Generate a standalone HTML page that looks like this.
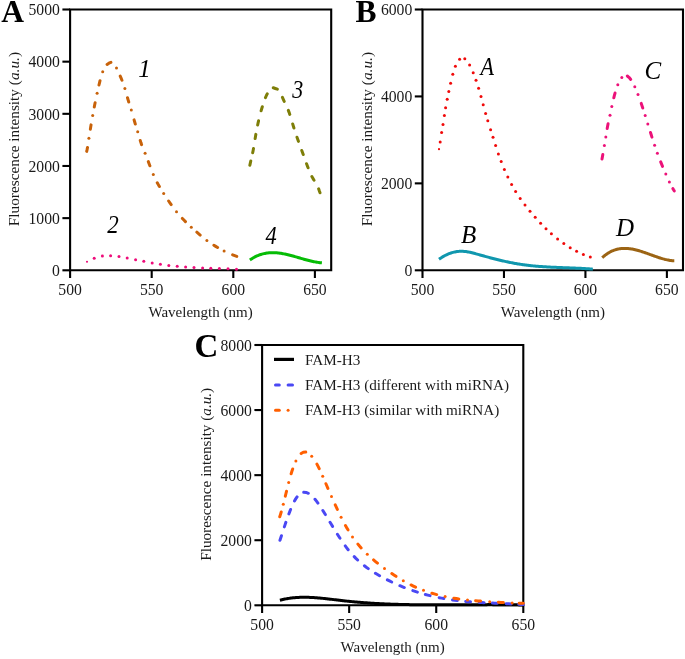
<!DOCTYPE html>
<html><head><meta charset="utf-8"><style>html,body{margin:0;padding:0;background:#fff;overflow:hidden;}svg{display:block;will-change:transform;}</style></head><body>
<svg width="685" height="659" viewBox="0 0 685 659" font-family='"Liberation Serif", serif' fill="#1a1a1a">
<rect width="685" height="659" fill="#fff"/>
<path d="M70.1,9.5 H331.2 V270.3 H70.1 Z" fill="none" stroke="#000" stroke-width="2.1"/>
<line x1="62.40" y1="270.30" x2="70.1" y2="270.30" stroke="#000" stroke-width="2.1"/>
<text x="59.90" y="276.00" text-anchor="end" font-size="15.7">0</text>
<line x1="62.40" y1="218.14" x2="70.1" y2="218.14" stroke="#000" stroke-width="2.1"/>
<text x="59.90" y="223.84" text-anchor="end" font-size="15.7">1000</text>
<line x1="62.40" y1="165.98" x2="70.1" y2="165.98" stroke="#000" stroke-width="2.1"/>
<text x="59.90" y="171.68" text-anchor="end" font-size="15.7">2000</text>
<line x1="62.40" y1="113.82" x2="70.1" y2="113.82" stroke="#000" stroke-width="2.1"/>
<text x="59.90" y="119.52" text-anchor="end" font-size="15.7">3000</text>
<line x1="62.40" y1="61.66" x2="70.1" y2="61.66" stroke="#000" stroke-width="2.1"/>
<text x="59.90" y="67.36" text-anchor="end" font-size="15.7">4000</text>
<line x1="62.40" y1="9.50" x2="70.1" y2="9.50" stroke="#000" stroke-width="2.1"/>
<text x="59.90" y="15.20" text-anchor="end" font-size="15.7">5000</text>
<line x1="70.10" y1="270.3" x2="70.10" y2="278.00" stroke="#000" stroke-width="2.1"/>
<text x="70.10" y="294.80" text-anchor="middle" font-size="15.7">500</text>
<line x1="151.70" y1="270.3" x2="151.70" y2="278.00" stroke="#000" stroke-width="2.1"/>
<text x="151.70" y="294.80" text-anchor="middle" font-size="15.7">550</text>
<line x1="233.30" y1="270.3" x2="233.30" y2="278.00" stroke="#000" stroke-width="2.1"/>
<text x="233.30" y="294.80" text-anchor="middle" font-size="15.7">600</text>
<line x1="314.90" y1="270.3" x2="314.90" y2="278.00" stroke="#000" stroke-width="2.1"/>
<text x="314.90" y="294.80" text-anchor="middle" font-size="15.7">650</text>
<text x="1.2" y="22" font-size="31.5" font-weight="bold" fill="#000">A</text>
<text transform="translate(19,139.1) rotate(-90)" text-anchor="middle" font-size="15.3">Fluorescence intensity (<tspan font-style="italic">a.u.</tspan>)</text>
<text x="200.6" y="317.3" text-anchor="middle" font-size="15">Wavelength (nm)</text>
<path d="M86.70,151.37 87.13,149.39 87.49,147.40 M90.34,129.21 90.70,127.04 91.07,124.87 M94.28,106.99 94.70,104.83 95.12,102.67 M98.98,84.98 99.50,82.84 100.03,80.71 M107.09,64.43 108.90,63.18 110.92,62.31 M120.22,76.18 121.10,78.20 121.96,80.22 M127.50,97.78 128.10,99.90 128.74,102.01 M134.09,119.85 134.70,121.96 135.33,124.07 M140.25,140.50 140.90,142.60 141.60,144.68 M148.32,161.62 149.10,163.67 149.88,165.73 M157.25,182.71 158.30,184.64 159.39,186.55 M168.65,201.01 169.90,202.82 171.17,204.62 M182.38,218.43 183.90,220.03 185.44,221.59 M196.84,232.19 198.50,233.63 200.18,235.05 M213.84,245.21 215.70,246.39 217.58,247.53 M232.64,254.90 234.70,255.68 236.77,256.42" fill="none" stroke="#c8620a" stroke-width="3.0" stroke-linecap="round" stroke-linejoin="round"/>
<circle cx="88.90" cy="138.17" r="1.50" fill="#c8620a"/>
<circle cx="92.70" cy="115.54" r="1.50" fill="#c8620a"/>
<circle cx="97.10" cy="93.19" r="1.50" fill="#c8620a"/>
<circle cx="102.70" cy="71.63" r="1.50" fill="#c8620a"/>
<circle cx="116.50" cy="67.90" r="1.50" fill="#c8620a"/>
<circle cx="124.90" cy="88.40" r="1.50" fill="#c8620a"/>
<circle cx="131.30" cy="110.01" r="1.50" fill="#c8620a"/>
<circle cx="137.70" cy="131.69" r="1.50" fill="#c8620a"/>
<circle cx="145.10" cy="153.36" r="1.50" fill="#c8620a"/>
<circle cx="153.30" cy="174.39" r="1.50" fill="#c8620a"/>
<circle cx="163.70" cy="193.53" r="1.50" fill="#c8620a"/>
<circle cx="176.50" cy="211.68" r="1.50" fill="#c8620a"/>
<circle cx="191.30" cy="227.20" r="1.50" fill="#c8620a"/>
<circle cx="206.90" cy="240.39" r="1.50" fill="#c8620a"/>
<circle cx="224.10" cy="251.09" r="1.50" fill="#c8620a"/>
<circle cx="87.00" cy="261.77" r="1.08" fill="#ee0c7a"/>
<circle cx="94.20" cy="258.19" r="1.50" fill="#ee0c7a"/>
<circle cx="102.40" cy="256.07" r="1.50" fill="#ee0c7a"/>
<circle cx="110.60" cy="255.63" r="1.50" fill="#ee0c7a"/>
<circle cx="119.00" cy="256.47" r="1.50" fill="#ee0c7a"/>
<circle cx="127.20" cy="257.97" r="1.50" fill="#ee0c7a"/>
<circle cx="135.60" cy="259.67" r="1.50" fill="#ee0c7a"/>
<circle cx="143.80" cy="261.33" r="1.50" fill="#ee0c7a"/>
<circle cx="152.20" cy="262.93" r="1.50" fill="#ee0c7a"/>
<circle cx="160.40" cy="264.30" r="1.50" fill="#ee0c7a"/>
<circle cx="168.80" cy="265.44" r="1.50" fill="#ee0c7a"/>
<circle cx="177.20" cy="266.34" r="1.50" fill="#ee0c7a"/>
<circle cx="185.60" cy="267.02" r="1.50" fill="#ee0c7a"/>
<circle cx="194.00" cy="267.55" r="1.50" fill="#ee0c7a"/>
<circle cx="202.60" cy="267.96" r="1.50" fill="#ee0c7a"/>
<circle cx="210.80" cy="268.27" r="1.50" fill="#ee0c7a"/>
<circle cx="219.40" cy="268.55" r="1.50" fill="#ee0c7a"/>
<circle cx="228.00" cy="268.83" r="1.50" fill="#ee0c7a"/>
<circle cx="236.50" cy="269.16" r="1.50" fill="#ee0c7a"/>
<path d="M249.85,165.22 250.30,163.12 250.78,161.02 M252.68,152.78 253.10,150.68 253.49,148.56 M255.15,138.60 255.50,136.48 255.86,134.36 M257.65,125.00 258.10,122.90 258.57,120.80 M261.10,110.83 261.70,108.77 262.32,106.71 M265.46,97.70 266.30,95.72 267.23,93.78 M273.29,87.77 275.30,88.47 277.33,89.18 M282.43,97.41 283.30,99.37 284.21,101.32 M288.34,110.35 289.10,112.36 289.80,114.39 M292.68,123.92 293.30,125.98 293.93,128.03 M296.99,137.29 297.70,139.31 298.42,141.34 M301.77,150.53 302.50,152.55 303.23,154.57 M306.55,163.75 307.30,165.76 308.07,167.77 M311.87,176.48 312.90,178.37 314.03,180.20 M318.62,188.81 319.29,190.81 320.00,192.78" fill="none" stroke="#7e7e08" stroke-width="3.0" stroke-linecap="round" stroke-linejoin="round"/>
<path d="M249.90,260.03 250.90,259.33 251.90,258.68 252.90,258.06 253.90,257.48 254.90,256.94 255.90,256.44 256.90,255.97 257.90,255.54 258.90,255.14 259.90,254.77 260.90,254.44 261.90,254.14 262.90,253.87 263.90,253.63 264.90,253.42 265.90,253.23 266.90,253.08 267.90,252.95 268.90,252.85 269.90,252.77 270.90,252.72 271.90,252.69 272.90,252.69 273.90,252.70 274.90,252.74 275.90,252.79 276.90,252.87 277.90,252.96 278.90,253.08 279.90,253.20 280.90,253.35 281.90,253.51 282.90,253.68 283.90,253.87 284.90,254.07 285.90,254.28 286.90,254.51 287.90,254.74 288.90,254.98 289.90,255.24 290.90,255.49 291.90,255.76 292.90,256.03 293.90,256.31 294.90,256.59 295.90,256.88 296.90,257.17 297.90,257.46 298.90,257.75 299.90,258.04 300.90,258.33 301.90,258.62 302.90,258.91 303.90,259.19 304.90,259.47 305.90,259.75 306.90,260.02 307.90,260.28 308.90,260.54 309.90,260.78 310.90,261.02 311.90,261.25 312.90,261.47 313.90,261.68 314.90,261.88 315.90,262.06 316.90,262.23 317.90,262.38 318.90,262.52 319.90,262.65 320.90,262.75 321.90,262.84" fill="none" stroke="#06bc06" stroke-width="3.0" stroke-linecap="butt" stroke-linejoin="round"/>
<text transform="translate(138.2,77.3) scale(1.0,1)" font-size="25" font-style="italic" fill="#000">1</text>
<text transform="translate(107.3,232.6) scale(0.92,1)" font-size="25" font-style="italic" fill="#000">2</text>
<text transform="translate(292.3,97.6) scale(0.88,1)" font-size="25" font-style="italic" fill="#000">3</text>
<text transform="translate(265.6,243.6) scale(0.9,1)" font-size="25" font-style="italic" fill="#000">4</text>
<path d="M422.5,9.5 H683.0 V270.3 H422.5 Z" fill="none" stroke="#000" stroke-width="2.1"/>
<line x1="414.80" y1="270.30" x2="422.5" y2="270.30" stroke="#000" stroke-width="2.1"/>
<text x="412.30" y="276.00" text-anchor="end" font-size="15.7">0</text>
<line x1="414.80" y1="183.37" x2="422.5" y2="183.37" stroke="#000" stroke-width="2.1"/>
<text x="412.30" y="189.07" text-anchor="end" font-size="15.7">2000</text>
<line x1="414.80" y1="96.43" x2="422.5" y2="96.43" stroke="#000" stroke-width="2.1"/>
<text x="412.30" y="102.13" text-anchor="end" font-size="15.7">4000</text>
<line x1="414.80" y1="9.50" x2="422.5" y2="9.50" stroke="#000" stroke-width="2.1"/>
<text x="412.30" y="15.20" text-anchor="end" font-size="15.7">6000</text>
<line x1="422.50" y1="270.3" x2="422.50" y2="278.00" stroke="#000" stroke-width="2.1"/>
<text x="422.50" y="294.80" text-anchor="middle" font-size="15.7">500</text>
<line x1="503.97" y1="270.3" x2="503.97" y2="278.00" stroke="#000" stroke-width="2.1"/>
<text x="503.97" y="294.80" text-anchor="middle" font-size="15.7">550</text>
<line x1="585.43" y1="270.3" x2="585.43" y2="278.00" stroke="#000" stroke-width="2.1"/>
<text x="585.43" y="294.80" text-anchor="middle" font-size="15.7">600</text>
<line x1="666.89" y1="270.3" x2="666.89" y2="278.00" stroke="#000" stroke-width="2.1"/>
<text x="666.89" y="294.80" text-anchor="middle" font-size="15.7">650</text>
<text x="355.5" y="22.3" font-size="31.5" font-weight="bold" fill="#000">B</text>
<text transform="translate(372,139.1) rotate(-90)" text-anchor="middle" font-size="15.3">Fluorescence intensity (<tspan font-style="italic">a.u.</tspan>)</text>
<text x="552.8" y="317" text-anchor="middle" font-size="15">Wavelength (nm)</text>
<circle cx="439.00" cy="149.13" r="1.08" fill="#f00a0a"/>
<circle cx="440.20" cy="141.91" r="1.50" fill="#f00a0a"/>
<circle cx="441.60" cy="132.58" r="1.50" fill="#f00a0a"/>
<circle cx="443.00" cy="124.53" r="1.50" fill="#f00a0a"/>
<circle cx="444.40" cy="115.41" r="1.50" fill="#f00a0a"/>
<circle cx="445.60" cy="107.67" r="1.50" fill="#f00a0a"/>
<circle cx="447.20" cy="99.25" r="1.50" fill="#f00a0a"/>
<circle cx="448.80" cy="91.46" r="1.50" fill="#f00a0a"/>
<circle cx="450.60" cy="83.13" r="1.50" fill="#f00a0a"/>
<circle cx="452.80" cy="74.23" r="1.50" fill="#f00a0a"/>
<circle cx="455.40" cy="66.31" r="1.50" fill="#f00a0a"/>
<circle cx="459.60" cy="59.22" r="1.50" fill="#f00a0a"/>
<circle cx="464.80" cy="58.73" r="1.50" fill="#f00a0a"/>
<circle cx="469.60" cy="64.91" r="1.50" fill="#f00a0a"/>
<circle cx="473.20" cy="72.80" r="1.50" fill="#f00a0a"/>
<circle cx="476.00" cy="80.30" r="1.50" fill="#f00a0a"/>
<circle cx="478.60" cy="88.14" r="1.50" fill="#f00a0a"/>
<circle cx="481.00" cy="96.53" r="1.50" fill="#f00a0a"/>
<circle cx="483.20" cy="104.76" r="1.50" fill="#f00a0a"/>
<circle cx="485.60" cy="113.52" r="1.50" fill="#f00a0a"/>
<circle cx="487.80" cy="120.87" r="1.50" fill="#f00a0a"/>
<circle cx="490.60" cy="129.72" r="1.50" fill="#f00a0a"/>
<circle cx="493.00" cy="137.35" r="1.50" fill="#f00a0a"/>
<circle cx="495.60" cy="145.53" r="1.50" fill="#f00a0a"/>
<circle cx="498.40" cy="153.93" r="1.50" fill="#f00a0a"/>
<circle cx="501.20" cy="161.61" r="1.50" fill="#f00a0a"/>
<circle cx="504.40" cy="169.53" r="1.50" fill="#f00a0a"/>
<circle cx="507.80" cy="177.06" r="1.50" fill="#f00a0a"/>
<circle cx="511.60" cy="184.54" r="1.50" fill="#f00a0a"/>
<circle cx="515.60" cy="191.50" r="1.50" fill="#f00a0a"/>
<circle cx="520.20" cy="198.56" r="1.50" fill="#f00a0a"/>
<circle cx="525.00" cy="205.09" r="1.50" fill="#f00a0a"/>
<circle cx="530.00" cy="211.29" r="1.50" fill="#f00a0a"/>
<circle cx="535.20" cy="217.36" r="1.50" fill="#f00a0a"/>
<circle cx="540.60" cy="223.27" r="1.50" fill="#f00a0a"/>
<circle cx="546.00" cy="228.76" r="1.50" fill="#f00a0a"/>
<circle cx="551.40" cy="233.81" r="1.50" fill="#f00a0a"/>
<circle cx="557.60" cy="239.03" r="1.50" fill="#f00a0a"/>
<circle cx="563.80" cy="243.61" r="1.50" fill="#f00a0a"/>
<circle cx="570.20" cy="247.70" r="1.50" fill="#f00a0a"/>
<circle cx="576.60" cy="251.22" r="1.50" fill="#f00a0a"/>
<circle cx="583.40" cy="254.38" r="1.50" fill="#f00a0a"/>
<circle cx="590.30" cy="257.08" r="1.50" fill="#f00a0a"/>
<path d="M439.00,259.28 440.00,258.57 441.00,257.90 442.00,257.26 443.00,256.65 444.00,256.07 445.00,255.53 446.00,255.02 447.00,254.55 448.00,254.11 449.00,253.70 450.00,253.32 451.00,252.98 452.00,252.66 453.00,252.38 454.00,252.14 455.00,251.92 456.00,251.74 457.00,251.58 458.00,251.46 459.00,251.37 460.00,251.31 461.00,251.29 462.00,251.29 463.00,251.33 464.00,251.39 465.00,251.49 466.00,251.61 467.00,251.75 468.00,251.92 469.00,252.10 470.00,252.31 471.00,252.53 472.00,252.77 473.00,253.02 474.00,253.28 475.00,253.54 476.00,253.82 477.00,254.10 478.00,254.38 479.00,254.66 480.00,254.94 481.00,255.22 482.00,255.50 483.00,255.78 484.00,256.06 485.00,256.33 486.00,256.61 487.00,256.88 488.00,257.15 489.00,257.42 490.00,257.69 491.00,257.95 492.00,258.21 493.00,258.47 494.00,258.73 495.00,258.99 496.00,259.24 497.00,259.49 498.00,259.73 499.00,259.98 500.00,260.22 501.00,260.46 502.00,260.69 503.00,260.92 504.00,261.15 505.00,261.38 506.00,261.60 507.00,261.81 508.00,262.03 509.00,262.23 510.00,262.44 511.00,262.64 512.00,262.84 513.00,263.03 514.00,263.22 515.00,263.40 516.00,263.58 517.00,263.75 518.00,263.92 519.00,264.08 520.00,264.24 521.00,264.39 522.00,264.54 523.00,264.69 524.00,264.82 525.00,264.96 526.00,265.09 527.00,265.21 528.00,265.33 529.00,265.45 530.00,265.56 531.00,265.66 532.00,265.77 533.00,265.87 534.00,265.96 535.00,266.05 536.00,266.14 537.00,266.23 538.00,266.31 539.00,266.39 540.00,266.46 541.00,266.54 542.00,266.61 543.00,266.67 544.00,266.74 545.00,266.80 546.00,266.86 547.00,266.92 548.00,266.97 549.00,267.03 550.00,267.08 551.00,267.13 552.00,267.18 553.00,267.22 554.00,267.27 555.00,267.31 556.00,267.36 557.00,267.40 558.00,267.44 559.00,267.48 560.00,267.52 561.00,267.56 562.00,267.59 563.00,267.63 564.00,267.67 565.00,267.71 566.00,267.74 567.00,267.78 568.00,267.82 569.00,267.86 570.00,267.89 571.00,267.93 572.00,267.97 573.00,268.01 574.00,268.05 575.00,268.09 576.00,268.14 577.00,268.18 578.00,268.23 579.00,268.27 580.00,268.32 581.00,268.37 582.00,268.42 583.00,268.48 584.00,268.53 585.00,268.59 586.00,268.65 587.00,268.71 588.00,268.78 589.00,268.85 590.00,268.92 591.00,268.99 592.00,269.07 592.80,269.13" fill="none" stroke="#1097ae" stroke-width="3.0" stroke-linecap="butt" stroke-linejoin="round"/>
<path d="M602.00,159.09 602.42,156.78 602.83,154.47 M607.17,128.55 607.60,126.14 608.08,123.73 M613.79,97.80 614.40,95.43 615.05,93.07 M627.30,76.04 629.20,77.57 630.75,79.46 M641.22,103.36 642.00,105.68 642.77,108.01 M650.46,132.42 651.20,134.76 651.94,137.09 M660.69,161.82 661.60,164.09 662.52,166.36 M672.86,188.64 673.56,189.79 674.30,190.91" fill="none" stroke="#ec1279" stroke-width="3.0" stroke-linecap="round" stroke-linejoin="round"/>
<circle cx="604.40" cy="145.48" r="1.50" fill="#ec1279"/>
<circle cx="605.80" cy="136.98" r="1.50" fill="#ec1279"/>
<circle cx="610.00" cy="115.14" r="1.50" fill="#ec1279"/>
<circle cx="611.80" cy="106.50" r="1.50" fill="#ec1279"/>
<circle cx="617.80" cy="84.71" r="1.50" fill="#ec1279"/>
<circle cx="621.80" cy="77.39" r="1.50" fill="#ec1279"/>
<circle cx="634.80" cy="86.74" r="1.50" fill="#ec1279"/>
<circle cx="638.00" cy="94.41" r="1.50" fill="#ec1279"/>
<circle cx="645.20" cy="115.58" r="1.50" fill="#ec1279"/>
<circle cx="647.80" cy="123.89" r="1.50" fill="#ec1279"/>
<circle cx="654.60" cy="145.18" r="1.50" fill="#ec1279"/>
<circle cx="657.40" cy="153.15" r="1.50" fill="#ec1279"/>
<circle cx="665.80" cy="174.11" r="1.50" fill="#ec1279"/>
<circle cx="669.40" cy="182.07" r="1.50" fill="#ec1279"/>
<path d="M602.20,257.68 603.20,256.79 604.20,255.95 605.20,255.16 606.20,254.42 607.20,253.73 608.20,253.09 609.20,252.49 610.20,251.94 611.20,251.44 612.20,250.97 613.20,250.55 614.20,250.17 615.20,249.83 616.20,249.53 617.20,249.27 618.20,249.04 619.20,248.85 620.20,248.70 621.20,248.57 622.20,248.48 623.20,248.42 624.20,248.39 625.20,248.39 626.20,248.42 627.20,248.47 628.20,248.55 629.20,248.66 630.20,248.78 631.20,248.93 632.20,249.10 633.20,249.29 634.20,249.50 635.20,249.73 636.20,249.98 637.20,250.24 638.20,250.51 639.20,250.80 640.20,251.10 641.20,251.41 642.20,251.74 643.20,252.07 644.20,252.41 645.20,252.75 646.20,253.10 647.20,253.46 648.20,253.82 649.20,254.18 650.20,254.55 651.20,254.91 652.20,255.28 653.20,255.64 654.20,256.00 655.20,256.35 656.20,256.70 657.20,257.04 658.20,257.38 659.20,257.71 660.20,258.02 661.20,258.33 662.20,258.62 663.20,258.91 664.20,259.17 665.20,259.43 666.20,259.66 667.20,259.88 668.20,260.08 669.20,260.26 670.20,260.42 671.20,260.56 672.20,260.68 673.20,260.77 674.20,260.84 674.30,260.84" fill="none" stroke="#9c6414" stroke-width="3.0" stroke-linecap="butt" stroke-linejoin="round"/>
<text transform="translate(480.6,74.6) scale(0.88,1)" font-size="25" font-style="italic" fill="#000">A</text>
<text transform="translate(461,242.6) scale(1.0,1)" font-size="25" font-style="italic" fill="#000">B</text>
<text transform="translate(644.4,78.6) scale(1.0,1)" font-size="25" font-style="italic" fill="#000">C</text>
<text transform="translate(616,235.5) scale(1.0,1)" font-size="25" font-style="italic" fill="#000">D</text>
<path d="M262.1,345.0 H523.3 V605.3 H262.1 Z" fill="none" stroke="#000" stroke-width="2.1"/>
<line x1="254.40" y1="605.30" x2="262.1" y2="605.30" stroke="#000" stroke-width="2.1"/>
<text x="251.90" y="611.00" text-anchor="end" font-size="15.7">0</text>
<line x1="254.40" y1="540.22" x2="262.1" y2="540.22" stroke="#000" stroke-width="2.1"/>
<text x="251.90" y="545.92" text-anchor="end" font-size="15.7">2000</text>
<line x1="254.40" y1="475.15" x2="262.1" y2="475.15" stroke="#000" stroke-width="2.1"/>
<text x="251.90" y="480.85" text-anchor="end" font-size="15.7">4000</text>
<line x1="254.40" y1="410.07" x2="262.1" y2="410.07" stroke="#000" stroke-width="2.1"/>
<text x="251.90" y="415.77" text-anchor="end" font-size="15.7">6000</text>
<line x1="254.40" y1="345.00" x2="262.1" y2="345.00" stroke="#000" stroke-width="2.1"/>
<text x="251.90" y="350.70" text-anchor="end" font-size="15.7">8000</text>
<line x1="262.10" y1="605.3" x2="262.10" y2="613.00" stroke="#000" stroke-width="2.1"/>
<text x="262.10" y="629.80" text-anchor="middle" font-size="15.7">500</text>
<line x1="349.17" y1="605.3" x2="349.17" y2="613.00" stroke="#000" stroke-width="2.1"/>
<text x="349.17" y="629.80" text-anchor="middle" font-size="15.7">550</text>
<line x1="436.23" y1="605.3" x2="436.23" y2="613.00" stroke="#000" stroke-width="2.1"/>
<text x="436.23" y="629.80" text-anchor="middle" font-size="15.7">600</text>
<line x1="523.30" y1="605.3" x2="523.30" y2="613.00" stroke="#000" stroke-width="2.1"/>
<text x="523.30" y="629.80" text-anchor="middle" font-size="15.7">650</text>
<text x="194.5" y="357.3" font-size="33" font-weight="bold" fill="#000">C</text>
<text transform="translate(211,474.3) rotate(-90)" text-anchor="middle" font-size="15.2">Fluorescence intensity (<tspan font-style="italic">a.u.</tspan>)</text>
<text x="392.7" y="652.3" text-anchor="middle" font-size="15">Wavelength (nm)</text>
<path d="M279.90,600.21 280.90,599.96 281.90,599.71 282.90,599.48 283.90,599.26 284.90,599.06 285.90,598.87 286.90,598.69 287.90,598.52 288.90,598.37 289.90,598.22 290.90,598.09 291.90,597.97 292.90,597.86 293.90,597.76 294.90,597.67 295.90,597.59 296.90,597.52 297.90,597.46 298.90,597.41 299.90,597.37 300.90,597.34 301.90,597.32 302.90,597.30 303.90,597.30 304.90,597.30 305.90,597.31 306.90,597.32 307.90,597.34 308.90,597.37 309.90,597.41 310.90,597.45 311.90,597.50 312.90,597.56 313.90,597.62 314.90,597.69 315.90,597.76 316.90,597.83 317.90,597.91 318.90,598.00 319.90,598.09 320.90,598.18 321.90,598.28 322.90,598.38 323.90,598.48 324.90,598.58 325.90,598.69 326.90,598.80 327.90,598.92 328.90,599.03 329.90,599.15 330.90,599.27 331.90,599.38 332.90,599.50 333.90,599.62 334.90,599.74 335.90,599.86 336.90,599.99 337.90,600.10 338.90,600.22 339.90,600.34 340.90,600.46 341.90,600.58 342.90,600.69 343.90,600.80 344.90,600.91 345.90,601.02 346.90,601.13 347.90,601.23 348.90,601.33 349.90,601.43 350.90,601.53 351.90,601.63 352.90,601.72 353.90,601.82 354.90,601.91 355.90,602.00 356.90,602.09 357.90,602.17 358.90,602.26 359.90,602.34 360.90,602.42 361.90,602.50 362.90,602.58 363.90,602.65 364.90,602.73 365.90,602.80 366.90,602.87 367.90,602.94 368.90,603.01 369.90,603.07 370.90,603.14 371.90,603.20 372.90,603.26 373.90,603.32 374.90,603.38 375.90,603.44 376.90,603.50 377.90,603.55 378.90,603.60 379.90,603.65 380.90,603.70 381.90,603.75 382.90,603.80 383.90,603.85 384.90,603.89 385.90,603.94 386.90,603.98 387.90,604.02 388.90,604.06 389.90,604.10 390.90,604.14 391.90,604.17 392.90,604.21 393.90,604.24 394.90,604.27 395.90,604.30 396.90,604.34 397.90,604.36 398.90,604.39 399.90,604.42 400.90,604.45 401.90,604.47 402.90,604.50 403.90,604.52 404.90,604.54 405.90,604.56 406.90,604.58 407.90,604.60 408.90,604.62 409.90,604.64 410.90,604.66 411.90,604.67 412.90,604.69 413.90,604.70 414.90,604.71 415.90,604.73 416.90,604.74 417.90,604.75 418.90,604.76 419.90,604.77 420.90,604.78 421.90,604.79 422.90,604.79 423.90,604.80 424.90,604.81 425.90,604.81 426.90,604.82 427.90,604.82 428.90,604.83 429.90,604.83 430.90,604.83 431.90,604.83 432.90,604.84 433.90,604.84 434.90,604.84 435.90,604.84 436.90,604.84 437.90,604.84 438.90,604.84 439.90,604.83 440.90,604.83 441.90,604.83 442.90,604.83 443.90,604.83 444.90,604.82 445.90,604.82 446.90,604.81 447.90,604.81 448.90,604.81 449.90,604.80 450.90,604.80 451.90,604.79 452.90,604.79 453.90,604.78 454.90,604.78 455.90,604.77 456.90,604.77 457.90,604.76 458.90,604.75 459.90,604.75 460.90,604.74 461.90,604.74 462.90,604.73 463.90,604.72 464.90,604.72 465.90,604.71 466.90,604.71 467.90,604.70 468.90,604.69 469.90,604.69 470.90,604.68 471.90,604.68 472.90,604.67 473.90,604.67 474.90,604.66 475.90,604.66 476.90,604.65 477.90,604.65 478.90,604.65 479.90,604.64 480.90,604.64 481.90,604.64 482.90,604.63 483.90,604.63 484.90,604.63 485.90,604.63 486.90,604.63 487.90,604.62 488.90,604.62 489.90,604.62 490.90,604.62 491.90,604.62 492.90,604.63 493.90,604.63 494.90,604.63 495.90,604.63 496.90,604.64 497.90,604.64 498.90,604.64 499.90,604.65 500.90,604.66 501.90,604.66 502.90,604.67 503.90,604.68 504.90,604.68 505.90,604.69 506.90,604.70 507.90,604.71 508.90,604.73 509.90,604.74 510.90,604.75 511.90,604.76 512.90,604.78 513.90,604.79 514.90,604.81 515.90,604.83 516.90,604.84 517.90,604.86 518.90,604.88 519.90,604.90 520.90,604.92 521.90,604.95 522.90,604.97 523.30,604.98" fill="none" stroke="#000" stroke-width="3.0" stroke-linecap="butt" stroke-linejoin="round"/>
<path d="M279.95,540.25 280.70,537.97 281.45,535.69 M284.34,526.90 285.10,524.62 285.87,522.35 M288.85,513.94 289.70,511.70 290.58,509.46 M294.49,500.94 295.70,498.87 297.06,496.89 M303.72,492.30 306.10,492.45 308.33,493.32 M315.01,499.27 316.50,501.15 317.93,503.08 M322.83,510.48 324.10,512.52 325.36,514.56 M330.06,522.28 331.30,524.33 332.55,526.38 M337.41,534.24 338.70,536.26 340.01,538.27 M345.26,545.90 346.70,547.82 348.18,549.72 M354.22,556.64 355.90,558.35 357.63,560.02 M364.38,565.79 366.30,567.24 368.25,568.64 M375.43,573.28 377.50,574.50 379.58,575.69 M387.35,579.88 389.50,580.95 391.66,582.00 M399.88,585.71 402.10,586.63 404.33,587.52 M412.82,590.64 415.10,591.40 417.39,592.14 M425.38,594.46 427.70,595.08 430.03,595.66 M439.14,597.68 441.50,598.13 443.86,598.56 M452.52,599.93 454.90,600.25 457.28,600.55 M465.71,601.43 468.10,601.64 470.49,601.84 M479.30,602.43 481.70,602.57 484.10,602.69 M492.50,603.08 494.90,603.18 497.30,603.28 M506.30,603.66 508.70,603.76 511.10,603.88 M518.70,604.28 521.00,604.42 523.30,604.57" fill="none" stroke="#4a48f4" stroke-width="3.0" stroke-linecap="round" stroke-linejoin="round"/>
<path d="M279.75,516.76 280.50,514.38 281.21,511.98 M285.31,496.18 285.90,493.75 286.49,491.32 M291.15,473.71 291.90,471.32 292.69,468.95 M301.15,453.57 303.30,452.32 305.76,452.08 M316.94,464.11 318.10,466.33 319.21,468.57 M325.92,483.73 326.90,486.03 327.89,488.33 M335.25,504.89 336.30,507.16 337.36,509.42 M345.47,525.53 346.70,527.71 347.97,529.86 M357.90,544.10 359.50,546.03 361.14,547.91 M373.57,559.96 375.50,561.55 377.46,563.11 M391.83,573.55 393.90,574.94 395.99,576.31 M411.05,584.94 413.30,586.03 415.57,587.08 M431.90,593.21 434.30,593.92 436.71,594.59 M453.83,598.22 456.30,598.60 458.78,598.95 M475.61,600.71 478.10,600.91 480.59,601.09 M498.40,602.24 500.90,602.39 503.40,602.53 M519.20,603.13 521.25,603.16 523.30,603.18" fill="none" stroke="#ff5f00" stroke-width="3.0" stroke-linecap="round" stroke-linejoin="round"/>
<circle cx="283.30" cy="504.23" r="1.50" fill="#ff5f00"/>
<circle cx="288.70" cy="482.48" r="1.50" fill="#ff5f00"/>
<circle cx="295.90" cy="461.04" r="1.50" fill="#ff5f00"/>
<circle cx="311.70" cy="456.13" r="1.50" fill="#ff5f00"/>
<circle cx="322.70" cy="476.23" r="1.50" fill="#ff5f00"/>
<circle cx="331.50" cy="496.59" r="1.50" fill="#ff5f00"/>
<circle cx="341.10" cy="517.17" r="1.50" fill="#ff5f00"/>
<circle cx="352.50" cy="536.91" r="1.50" fill="#ff5f00"/>
<circle cx="367.30" cy="554.33" r="1.50" fill="#ff5f00"/>
<circle cx="384.50" cy="568.39" r="1.50" fill="#ff5f00"/>
<circle cx="403.30" cy="580.80" r="1.50" fill="#ff5f00"/>
<circle cx="423.50" cy="590.35" r="1.50" fill="#ff5f00"/>
<circle cx="445.10" cy="596.61" r="1.50" fill="#ff5f00"/>
<circle cx="467.50" cy="599.98" r="1.50" fill="#ff5f00"/>
<circle cx="489.70" cy="601.70" r="1.50" fill="#ff5f00"/>
<circle cx="512.10" cy="602.93" r="1.50" fill="#ff5f00"/>
<line x1="274" y1="359.4" x2="294" y2="359.4" stroke="#000" stroke-width="3.2"/>
<path d="M275.5,385.1 H279.3 M288.1,385.1 H292.5" stroke="#4a48f4" stroke-width="3" stroke-linecap="round"/>
<path d="M275.5,410.3 H279.3" stroke="#ff5f00" stroke-width="3" stroke-linecap="round"/><circle cx="288.1" cy="410.3" r="1.5" fill="#ff5f00"/>
<text x="305" y="364.6" font-size="15.2">FAM-H3</text>
<text x="305" y="390.0" font-size="15.2">FAM-H3 (different with miRNA)</text>
<text x="305" y="415.4" font-size="15.2">FAM-H3 (similar with miRNA)</text>
</svg>
</body></html>
